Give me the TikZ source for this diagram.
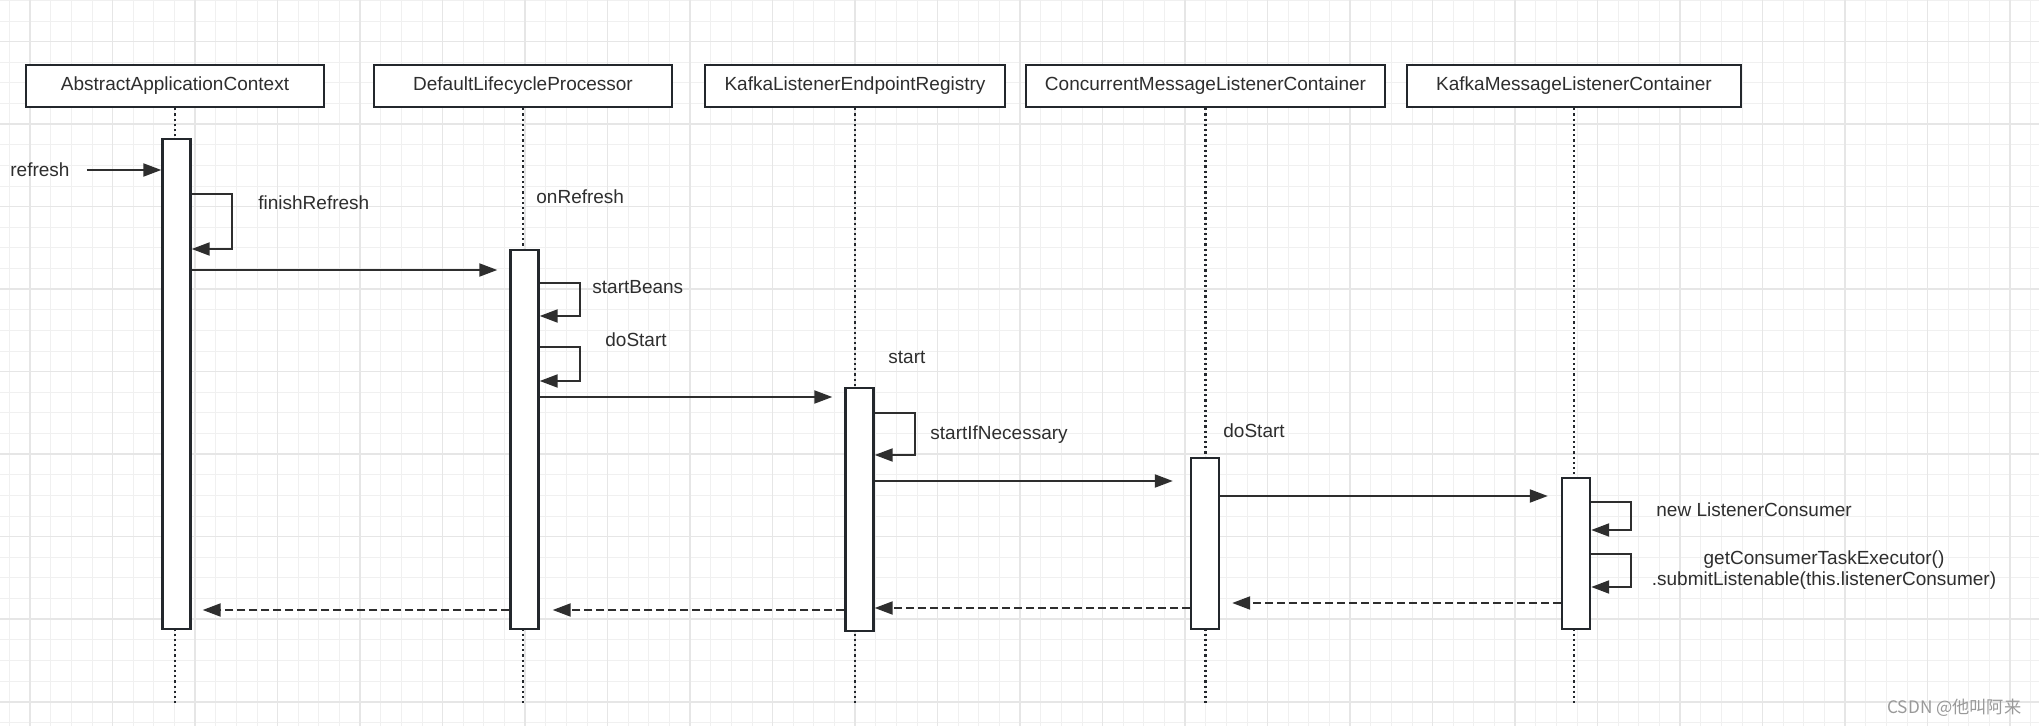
\documentclass[tikz,border=0pt]{standalone}
\usepackage{fontspec}
\setmainfont{Liberation Sans}
\newfontfamily\cjkfont{Noto Sans CJK SC}
\usetikzlibrary{arrows.meta}
\definecolor{inkgray}{HTML}{2E2E2E}
\definecolor{boxline}{HTML}{23272C}
\definecolor{gridminor}{HTML}{F0F0F0}
\definecolor{gridmajor}{HTML}{E6E6E6}

\begin{document}
\begin{tikzpicture}[x=0.5pt,y=-0.5pt,
	every node/.style={font=\fontsize{9.5}{10.9}\selectfont, text=inkgray},
	head/.style={draw=boxline, line width=1.3pt, fill=white, minimum height=21pt, inner sep=0pt},
	bar/.style={draw=boxline, line width=1.2pt, fill=white, minimum width=14pt, inner sep=0pt},
	lifeline/.style={draw=boxline, line width=1.2pt, dash pattern=on 1.1pt off 1.5pt},
	msg/.style={draw=inkgray, line width=1pt, -{Triangle[length=9pt,width=6.5pt]}},
	ret/.style={msg, dash pattern=on 4pt off 2pt},
	lbl/.style={anchor=west, inner sep=0pt}]
	\useasboundingbox (0,0) rectangle (2039,726);
	\fill[white] (0,0) rectangle (2039,726);
	\foreach \i in {0,...,98}
	\draw[gridminor, line width=0.5pt] ({9.5+20.625*\i},0) -- ++(0,726);
	\foreach \j in {0,...,35}
	\draw[gridminor, line width=0.5pt] (0,{0.45+20.625*\j}) -- ++(2039,0);
	\foreach \i in {0,...,24}
	\draw[gridmajor, line width=0.8pt] ({30.125+82.5*\i},0) -- ++(0,726);
	\foreach \j in {0,...,8}
	\draw[gridmajor, line width=0.8pt] (0,{41.7+82.5*\j}) -- ++(2039,0);

	\foreach \name/\x/\w/\txt in {aac/175/149/AbstractApplicationContext, dlp/523/149/DefaultLifecycleProcessor,
		kler/855/150/KafkaListenerEndpointRegistry, cmlc/1205.5/179.5/ConcurrentMessageListenerContainer,
		kmlc/1574/167/KafkaMessageListenerContainer}
	\node[head, minimum width=\w pt] (\name) at (\x,86) {\txt};
	\foreach \name in {aac,dlp,kler,cmlc,kmlc}
	\draw[lifeline] (\name.south) -- (\name |- 0,703);
	\foreach \name/\x/\y/\h in {aac/176.5/384/245, dlp/524.5/439.5/189.5, kler/859.5/509.5/121.2,
		cmlc/1205/543.5/85.5, kmlc/1576/553.7/75.4}
	\node[bar, minimum height=\h pt] (\name-act) at (\x,\y) {};

	\foreach \name/\t/\b in {aac/194/249, dlp/283/316, dlp/347/381, kler/413/455, kmlc/502/530, kmlc/554/587}
	\draw[msg] (\name-act.east |- 0,\t) -- ++(40,0) |- (\name-act.east |- 0,\b);

	\node[lbl] (refresh) at (10,170) {refresh};
	\draw[msg] ([xshift=8.5pt]refresh.east) -- (refresh.east -| aac-act.west);
	\draw[msg, shorten >=6pt] (aac-act.east |- 0,270) -- (dlp-act.west |- 0,270);
	\draw[msg, shorten >=6pt] (dlp-act.east |- 0,397) -- (kler-act.west |- 0,397);
	\draw[msg, shorten >=8.5pt] (kler-act.east |- 0,481) -- (cmlc-act.west |- 0,481);
	\draw[msg, shorten >=6.5pt] (cmlc-act.east |- 0,496) -- (kmlc-act.west |- 0,496);

	\draw[ret, shorten >=6pt] (kmlc-act.west |- 0,603) -- (cmlc-act.east |- 0,603);
	\draw[ret] (cmlc-act.west |- 0,608) -- (kler-act.east |- 0,608);
	\draw[ret, shorten >=6.5pt] (kler-act.west |- 0,610) -- (dlp-act.east |- 0,610);
	\draw[ret, shorten >=5.5pt] (dlp-act.west |- 0,610) -- (aac-act.east |- 0,610);

	\node[lbl] (finish) at (258,203) {finishRefresh};
	\node[lbl] (onrefresh) at (536,197) {onRefresh};
	\node[lbl] (startbeans) at (592,287) {startBeans};
	\node[lbl] (dostart) at (605,340) {doStart};
	\node[lbl] (start) at (888,357) {start};
	\node[lbl] (startif) at (930,435) {startIfNecessary};
	\node[lbl] (dostart2) at (1223,431) {doStart};
	\node[lbl] (newconsumer) at (1656,510) {new ListenerConsumer};
	\node[align=center, inner sep=0pt] (submit) at (1824,570) {getConsumerTaskExecutor()\\.submitListenable(this.listenerConsumer)};
	\node[lbl, font=\cjkfont\fontsize{8.6}{10}\selectfont, text=black!40] (csdn) at (1887,708) {CSDN @他叫阿来};
\end{tikzpicture}
\end{document}
